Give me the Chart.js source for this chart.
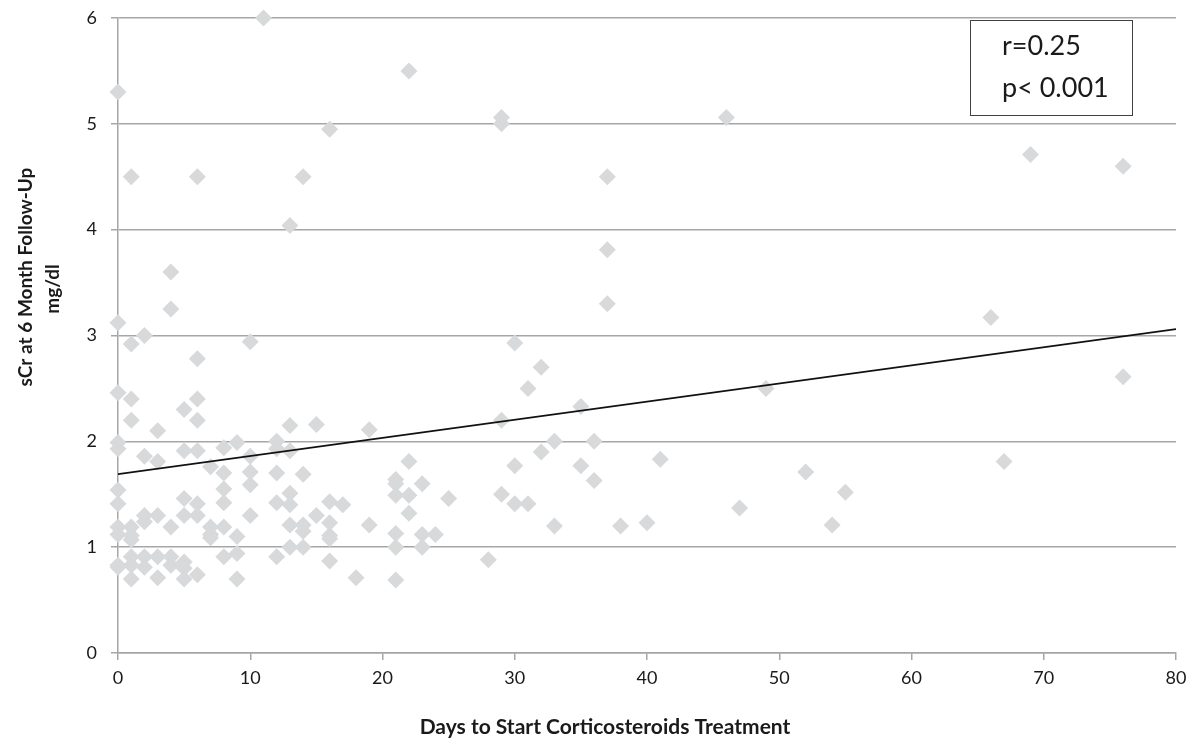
<!DOCTYPE html>
<html>
<head>
<meta charset="utf-8">
<script src="https://cdn.jsdelivr.net/npm/chart.js@4.4.1/dist/chart.umd.min.js"></script>
<style>
  html, body { margin: 0; padding: 0; background: #fff; }
</style>
</head>
<body>
<canvas id="chart" width="1191" height="739"></canvas>
<script>
// days until corticosteroids were started, and serum creatinine at 6 months
const days = [
  0, 0, 0, 0, 0, 0, 0, 0, 0, 0, 0,
  1, 1, 1, 1, 1, 1, 1, 1, 1, 1,
  2, 2, 2, 2, 2, 2,
  3, 3, 3, 3, 3,
  4, 4, 4, 4, 4,
  5, 5, 5, 5, 5, 5, 5,
  6, 6, 6, 6, 6, 6, 6, 6,
  7, 7, 7, 7,
  8, 8, 8, 8, 8, 8,
  9, 9, 9, 9,
  10, 10, 10, 10, 10,
  11,
  12, 12, 12, 12, 12,
  13, 13, 13, 13, 13, 13, 13,
  14, 14, 14, 14, 14,
  15, 15,
  16, 16, 16, 16, 16, 16,
  17, 18, 19, 19,
  21, 21, 21, 21, 21, 21,
  22, 22, 22, 22,
  23, 23, 23, 24, 25, 28,
  29, 29, 29, 29,
  30, 30, 30, 31, 31, 32, 32, 33, 33,
  35, 35, 36, 36, 37, 37, 37, 38, 40, 41,
  46, 47, 49, 52, 54, 55, 66, 67, 69, 76, 76
]
const sCr = [
  5.30, 3.12, 2.46, 1.99, 1.93, 1.54, 1.41, 1.19, 1.12, 0.83, 0.81,
  4.50, 2.92, 2.40, 2.20, 1.19, 1.11, 1.07, 0.91, 0.83, 0.70,
  3.00, 1.86, 1.30, 1.24, 0.91, 0.81,
  2.10, 1.81, 1.30, 0.91, 0.71,
  3.60, 3.25, 1.19, 0.91, 0.83,
  2.30, 1.91, 1.46, 1.30, 0.86, 0.80, 0.70,
  4.50, 2.78, 2.40, 2.20, 1.91, 1.41, 1.30, 0.74,
  1.76, 1.19, 1.12, 1.09,
  1.94, 1.70, 1.55, 1.42, 1.19, 0.91,
  1.99, 1.10, 0.94, 0.70,
  2.94, 1.86, 1.71, 1.59, 1.30,
  6.00,
  2.00, 1.93, 1.70, 1.42, 0.91,
  4.04, 2.15, 1.91, 1.51, 1.40, 1.21, 1.00,
  4.50, 1.69, 1.21, 1.15, 1.00,
  2.16, 1.30,
  4.95, 1.43, 1.23, 1.11, 1.08, 0.87,
  1.40, 0.71, 2.11, 1.21,
  1.64, 1.60, 1.49, 1.13, 1.00, 0.69,
  5.50, 1.81, 1.49, 1.32,
  1.60, 1.12, 1.00, 1.12, 1.46, 0.88,
  5.06, 5.00, 2.20, 1.50,
  2.93, 1.77, 1.41, 2.50, 1.41, 2.70, 1.90, 2.00, 1.20,
  2.33, 1.77, 2.00, 1.63, 4.50, 3.81, 3.30, 1.20, 1.23, 1.83,
  5.06, 1.37, 2.50, 1.71, 1.21, 1.52, 3.17, 1.81, 4.71, 4.60, 2.61
]

// linear trend line end points
const trendDays = [0, 80]
const trendSCr = [1.69, 3.06]

const statsText = ["r=0.25", "p< 0.001"]
const xTitle = "Days to Start Corticosteroids Treatment"
const yTitle = ["sCr at 6 Month Follow-Up", "mg/dl"]

const FONT = "Lato, 'Open Sans', sans-serif"
const GRID = "#a6a6a6"
const INK = "#1a1a1a"

// axis titles sit a bit off-centre in the original, so draw them by hand
const axisTitles = {
  id: "axisTitles",
  afterDraw(chart) {
    const { ctx } = chart
    ctx.save()
    ctx.fillStyle = INK
    ctx.font = "bold 21px " + FONT
    ctx.textAlign = "center"
    ctx.textBaseline = "middle"
    ctx.fillText(xTitle, 605, 727)

    ctx.font = "bold 19px " + FONT
    ctx.rotate(-Math.PI / 2)
    ctx.fillText(yTitle[0], -277, 26)
    ctx.fillText(yTitle[1], -289, 53)
    ctx.restore()
  }
}

// little boxed r / p label in the top right corner
const statsBox = {
  id: "statsBox",
  afterDraw(chart) {
    const { ctx } = chart
    const left = 970, top = 20, w = 162, h = 95
    ctx.save()
    ctx.fillStyle = "#fff"
    ctx.fillRect(left, top, w, h)
    ctx.strokeStyle = "#404040"
    ctx.lineWidth = 1
    ctx.strokeRect(left + 0.5, top + 0.5, w, h)
    ctx.fillStyle = INK
    ctx.font = "27px " + FONT
    ctx.textBaseline = "middle"
    ctx.fillText(statsText[0], 1002, 46)
    ctx.fillText(statsText[1], 1002, 88)
    ctx.restore()
  }
}

new Chart(document.getElementById("chart"), {
  type: "scatter",
  data: {
    datasets: [
      {
        label: "Patients",
        data: days.map((d, i) => ({ x: d, y: sCr[i] })),
        pointStyle: "rectRot",
        pointRadius: 8.5,
        pointHoverRadius: 8.5,
        backgroundColor: "#d8d9da",
        borderColor: "#d8d9da",
        borderWidth: 0,
        clip: false,
        order: 2
      },
      {
        type: "line",
        label: "Trend",
        data: trendDays.map((d, i) => ({ x: d, y: trendSCr[i] })),
        borderColor: "#111",
        borderWidth: 1.6,
        pointRadius: 0,
        fill: false,
        order: 1
      }
    ]
  },
  options: {
    responsive: false,
    animation: false,
    devicePixelRatio: 1,
    layout: { padding: { left: 0, top: 18, right: 15, bottom: 0 } },
    plugins: {
      legend: { display: false },
      tooltip: { enabled: false }
    },
    scales: {
      x: {
        type: "linear",
        min: 0,
        max: 80,
        afterFit: (scale) => {
          scale.height = 86
          scale.paddingLeft = 0
          scale.paddingRight = 0
        },
        ticks: {
          stepSize: 10,
          padding: 7,
          color: INK,
          font: { family: FONT, size: 18 }
        },
        grid: {
          drawOnChartArea: false,
          tickLength: 7,
          color: GRID,
          lineWidth: 1.5
        },
        border: { color: GRID, width: 1.5 }
      },
      y: {
        min: 0,
        max: 6,
        afterFit: (scale) => {
          scale.width = 118
          scale.paddingTop = 0
          scale.paddingBottom = 0
        },
        ticks: {
          stepSize: 1,
          padding: 14,
          color: INK,
          font: { family: FONT, size: 18 }
        },
        grid: {
          tickLength: 7,
          color: GRID,
          lineWidth: 1.5
        },
        border: { color: GRID, width: 1.5 }
      }
    }
  },
  plugins: [axisTitles, statsBox]
})
</script>
</body>
</html>
